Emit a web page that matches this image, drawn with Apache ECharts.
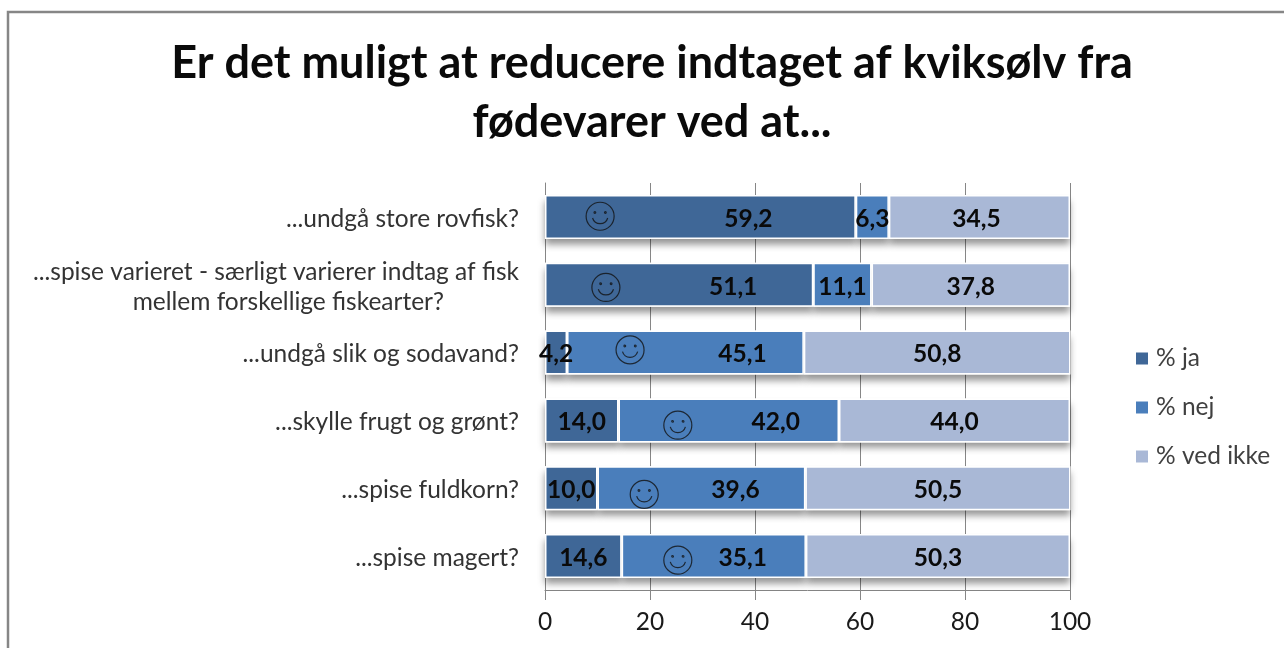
<!DOCTYPE html>
<html><head><meta charset="utf-8">
<style>html,body{margin:0;padding:0;background:#fff}#c{width:1284px;height:648px}</style>
<script src="https://cdn.jsdelivr.net/npm/echarts@6/dist/echarts.min.js"></script>
</head><body><div id="c"></div>
<script>
const categories = ["...undgå store rovfisk?","...spise varieret - særligt varierer indtag af fisk\nmellem forskellige fiskearter?","...undgå slik og sodavand?","...skylle frugt og grønt?","...spise fuldkorn?","...spise magert?"];
const ja = [59.2,51.1,4.2,14.0,10.0,14.6];
const nej = [6.3,11.1,45.1,42.0,39.6,35.1];
const vedIkke = [34.5,37.8,50.8,44.0,50.5,50.3];
const xTicks = [0,20,40,60,80,100];
const title = "Er det muligt at reducere indtaget af kviksølv fra\nfødevarer ved at...";
// hand-moved data labels in the source chart (pixels from segment centre)
const jaLabelShift = [48,54,0,0,0,0];
const nejLabelShift = [0,0,57,47,34,29];
const vedIkkeLabelShift = [-3,0,0,0,0,0];
// smiley annotations: [x value, row position]
const smileys = [[10.5,0.49],[11.6,1.54],[16.2,2.46],[25.3,3.57],[18.9,4.59],[25.3,5.56]];

const FONT = 'Lato, "Open Sans", sans-serif';
const FS = 24.5;
const SMILE = 'path://M50 2A48 48 0 1 1 49.9 2ZM32 34A3 3 0 1 1 31.9 34ZM68 34A3 3 0 1 1 67.9 34ZM24 56C32 82 68 82 76 56';

function barSeries(name, values, color, shift){
  return {
    name, type:'bar', stack:'t', barWidth:44, z:3, xAxisIndex:0, yAxisIndex:0,
    itemStyle:{color, borderColor:'#fff', borderWidth:1.5},
    label:{show:true, position:'inside', fontFamily:FONT, fontWeight:'bold', fontSize:FS, color:'#0a0a0a',
      formatter:p=>p.value.toFixed(1).replace('.',',')},
    data: values.map((v,i)=>({value:v, label:{offset:[shift[i],2]}}))
  };
}
function shadowSeries(values){
  return {
    type:'bar', stack:'s', barWidth:44, barGap:'-100%', z:2, silent:true, xAxisIndex:0, yAxisIndex:0,
    itemStyle:{color:'#fff', shadowBlur:7, shadowOffsetY:6, shadowColor:'rgba(0,0,0,0.42)'},
    label:{show:false}, data:values
  };
}

const chart = echarts.init(document.getElementById('c'));
chart.setOption({
  animation:false,
  backgroundColor:'#fff',
  graphic:[{type:'rect', shape:{x:8,y:12,width:1400,height:800}, style:{fill:'none',stroke:'#868686',lineWidth:2.5}, silent:true, z:-1}],
  title:{text:title, left:647, top:29, textAlign:'center',
    textStyle:{fontFamily:FONT, fontWeight:'bold', fontSize:45, lineHeight:59, color:'#0a0a0a'}},
  legend:{orient:'vertical', left:1129, top:341, itemWidth:14, itemHeight:14, itemGap:24, icon:'rect',
    data:['% ja','% nej','% ved ikke'],
    textStyle:{fontFamily:FONT, fontSize:FS, color:'#404040', padding:[0,0,0,2]}},
  grid:{left:545, right:214, top:183, bottom:58, containLabel:false},
  xAxis:[{type:'value', min:0, max:100, interval:20,
    axisLine:{show:true, onZero:false, lineStyle:{color:'#868686',width:1}},
    axisTick:{show:true, length:10, lineStyle:{color:'#868686'}},
    splitLine:{show:true, lineStyle:{color:'#868686',width:1}},
    axisLabel:{fontFamily:FONT, fontSize:FS, color:'#1a1a1a', margin:20, formatter:v=>xTicks.includes(v)?String(v):''}}],
  yAxis:[{type:'category', inverse:true, data:categories,
      axisLine:{show:true, onZero:false, lineStyle:{color:'#868686'}}, axisTick:{show:false},
      axisLabel:{margin:26, fontFamily:FONT, fontSize:FS, color:'#333', lineHeight:30, align:'right', padding:[4,0,0,0],
        formatter:v=>{const p=v.split('\n');return p.length>1?'{a|'+p[0]+'}\n{b|'+p[1]+'}':v;},
        rich:{a:{fontFamily:FONT,fontSize:FS,color:'#333',lineHeight:30,align:'right'},
              b:{fontFamily:FONT,fontSize:FS,color:'#333',lineHeight:30,align:'right',padding:[0,75,0,0]}}}},
    {type:'value', inverse:true, min:0, max:6, show:false}],
  series:[
    shadowSeries(ja), shadowSeries(nej), shadowSeries(vedIkke),
    barSeries('% ja',ja,'#3F6797',jaLabelShift),
    barSeries('% nej',nej,'#4A7EBB',nejLabelShift),
    barSeries('% ved ikke',vedIkke,'#A9B8D6',vedIkkeLabelShift),
    {type:'scatter', name:'smiley', xAxisIndex:0, yAxisIndex:1, symbol:SMILE, symbolSize:28, z:5, silent:true,
     itemStyle:{color:'none', borderColor:'#111', borderWidth:1.2}, data:smileys}
  ]
});
</script></body></html>
